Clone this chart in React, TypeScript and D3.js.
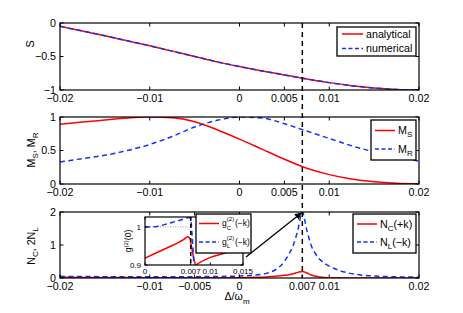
import React from "react";
import * as d3 from "d3";

// detuning grid for S and M panels
const detuning = [-0.02, -0.0175, -0.015, -0.0125, -0.01, -0.0075, -0.005, -0.0025, 0, 0.0025, 0.005, 0.0075, 0.01, 0.0125, 0.015, 0.0175, 0.02];
const sAnalytical = [-0.05, -0.12, -0.19, -0.265, -0.34, -0.42, -0.5, -0.58, -0.65, -0.715, -0.775, -0.835, -0.89, -0.935, -0.97, -0.992, -1.0];
const sNumerical = [-0.05, -0.12, -0.19, -0.265, -0.34, -0.42, -0.5, -0.58, -0.65, -0.715, -0.775, -0.835, -0.89, -0.935, -0.97, -0.992, -1.0];
const mS = [0.89, 0.925, 0.955, 0.985, 1.0, 0.99, 0.93, 0.81, 0.67, 0.52, 0.37, 0.235, 0.14, 0.075, 0.035, 0.012, 0.003];
const mR = [0.33, 0.38, 0.43, 0.5, 0.59, 0.71, 0.85, 0.95, 1.0, 0.985, 0.9, 0.79, 0.68, 0.57, 0.48, 0.41, 0.34];

// finer grid around the resonance
const peakDetuning = [-0.02, -0.015, -0.01, -0.005, 0, 0.002, 0.003, 0.004, 0.005, 0.0055, 0.006, 0.0065, 0.007, 0.0075, 0.008, 0.0085, 0.009, 0.01, 0.011, 0.012, 0.015, 0.02];
const nC = [0.02, 0.015, 0.01, 0.005, 0.01, 0.02, 0.03, 0.05, 0.08, 0.1, 0.13, 0.17, 0.2, 0.15, 0.09, 0.05, 0.03, 0.01, 0.005, 0.003, 0.001, 0];
const nL = [0.05, 0.04, 0.035, 0.04, 0.06, 0.1, 0.14, 0.25, 0.5, 0.72, 1.0, 1.45, 2.0, 1.45, 0.98, 0.72, 0.55, 0.36, 0.24, 0.16, 0.06, 0.025];

// inset g2(0)
const insetDetuning = [0, 0.001, 0.002, 0.003, 0.004, 0.005, 0.006, 0.0065, 0.0068, 0.007, 0.0072, 0.0075, 0.0078, 0.008, 0.009, 0.01, 0.012, 0.015];
const gC = [0.918, 0.926, 0.934, 0.942, 0.95, 0.958, 0.968, 0.974, 0.972, 0.96, 0.94, 0.915, 0.899, 0.902, 0.912, 0.92, 0.93, 0.945];
const gL = [1.0, 1.0, 1.002, 1.006, 1.011, 1.016, 1.021, 1.024, 1.025, 1.02, 0.98, 0.9, 0.82, 0.78, 0.7, 0.65, 0.6, 0.55];

const xTicksUpper = [-0.02, -0.01, 0, 0.005, 0.01, 0.02];
const xTicksLower = [-0.02, -0.01, -0.005, 0, 0.007, 0.01, 0.02];
const sTicks = [0, -0.5, -1];
const mTicks = [0, 0.5, 1];
const nTicks = [0, 1, 2];
const insetXTicks = [0, 0.007, 0.01, 0.015];
const insetYTicks = [0.9, 1];
const markerDetuning = 0.007;

const FONT = "'Liberation Sans', Arial, Helvetica, sans-serif";
const RED = "#ff0000";
const BLUE = "#1030ff";
const FS = 10.7;
const MINUS = "\u2212";

const x = d3.scaleLinear().domain([-0.02, 0.02]).range([60, 419]);
const yS = d3.scaleLinear().domain([-1, 0]).range([90, 23]);
const yM = d3.scaleLinear().domain([0, 1]).range([184, 117]);
const yN = d3.scaleLinear().domain([0, 2]).range([278, 212]);
const xi = d3.scaleLinear().domain([0, 0.015]).range([145, 243]);
const yi = d3.scaleLinear().domain([0.9, 1.026]).range([265, 217]);

const fmt = (v: number) => (v === 0 ? "0" : String(v).replace("-", MINUS));

function path(xs: number[], ys: number[], sx: any, sy: any) {
  return d3
    .line<number>()
    .x((_, i) => sx(xs[i]))
    .y((d) => sy(d))
    .curve(d3.curveMonotoneX)(ys) as string;
}

function Axes({ id, sx, sy, xTicks, yTicks, fontSize = FS, tick = 3.5, xLabelGap = 12, children }: any) {
  const [x0, x1] = sx.range();
  const [y1, y0] = sy.range();
  return (
    <g>
      <rect x={x0} y={y0} width={x1 - x0} height={y1 - y0} fill="#fff" />
      <clipPath id={id}>
        <rect x={x0} y={y0} width={x1 - x0} height={y1 - y0} />
      </clipPath>
      <g clipPath={`url(#${id})`}>{children}</g>
      {xTicks.map((t: number) => (
        <g key={"x" + t}>
          <line x1={sx(t)} x2={sx(t)} y1={y1} y2={y1 - tick} stroke="#000" />
          <line x1={sx(t)} x2={sx(t)} y1={y0} y2={y0 + tick} stroke="#000" />
          <text x={sx(t)} y={y1 + xLabelGap} textAnchor="middle" fontSize={fontSize}>
            {fmt(t)}
          </text>
        </g>
      ))}
      {yTicks.map((t: number) => (
        <g key={"y" + t}>
          <line x1={x0} x2={x0 + tick} y1={sy(t)} y2={sy(t)} stroke="#000" />
          <line x1={x1} x2={x1 - tick} y1={sy(t)} y2={sy(t)} stroke="#000" />
          <text x={x0 - 4} y={sy(t)} dy="0.35em" textAnchor="end" fontSize={fontSize}>
            {fmt(t)}
          </text>
        </g>
      ))}
      <rect x={x0} y={y0} width={x1 - x0} height={y1 - y0} fill="none" stroke="#000" strokeWidth={1.2} />
    </g>
  );
}

function Legend({ x0, y0, w, h, rows, line, fontSize = FS }: any) {
  return (
    <g>
      <rect x={x0} y={y0} width={w} height={h} fill="#fff" stroke="#000" strokeWidth={1.3} />
      {rows.map((r: any, i: number) => (
        <g key={i}>
          <line x1={line[0]} x2={line[1]} y1={r.y} y2={r.y} stroke={r.color} strokeWidth={1.5} strokeDasharray={r.dash} />
          <text x={line[1] + 3} y={r.y} dy="0.35em" fontSize={fontSize}>
            {r.label}
          </text>
        </g>
      ))}
    </g>
  );
}

export default function App() {
  const dash = "5,3.5";
  const gLabel = (tx: number, ty: number, sub: string) => (
    <g fontSize={8.5}>
      <text x={tx} y={ty} dy="0.3em">g</text>
      <text x={tx + 4.8} y={ty - 2.2} fontSize={6}>(2)</text>
      <text x={tx + 4.8} y={ty + 6} fontSize={6}>{sub}</text>
      <text x={tx + 13} y={ty} dy="0.3em">{`(${MINUS}k)`}</text>
    </g>
  );
  return (
    <div style={{ position: "fixed", left: 0, top: 0 }}>
      <svg width={463} height={313} fontFamily={FONT} style={{ display: "block", background: "#fff" }}>
        {/* top: S */}
        <Axes id="cS" sx={x} sy={yS} xTicks={xTicksUpper} yTicks={sTicks}>
          <path d={path(detuning, sAnalytical, x, yS)} fill="none" stroke={RED} strokeWidth={1.5} />
          <path d={path(detuning, sNumerical, x, yS)} fill="none" stroke={BLUE} strokeWidth={1.5} strokeDasharray={dash} />
        </Axes>
        <text transform="translate(34,44) rotate(-90)" textAnchor="middle" fontSize={FS}>S</text>
        <Legend
          x0={337} y0={27} w={79} h={29} line={[342, 363]}
          rows={[
            { y: 34, color: RED, label: "analytical" },
            { y: 48.5, color: BLUE, dash: "4,2.5", label: "numerical" },
          ]}
        />

        {/* middle: M */}
        <Axes id="cM" sx={x} sy={yM} xTicks={xTicksUpper} yTicks={mTicks}>
          <path d={path(detuning, mS, x, yM)} fill="none" stroke={RED} strokeWidth={1.5} />
          <path d={path(detuning, mR, x, yM)} fill="none" stroke={BLUE} strokeWidth={1.5} strokeDasharray={dash} />
        </Axes>
        <text transform="translate(35,150) rotate(-90)" textAnchor="middle" fontSize={FS}>
          M<tspan dy="3" fontSize="8">S</tspan><tspan dy="-3">, M</tspan><tspan dy="3" fontSize="8">R</tspan>
        </text>
        <Legend
          x0={371} y0={120} w={45} h={40} line={[375, 395]}
          rows={[
            { y: 130.5, color: RED, label: <>M<tspan dy="3" fontSize="8">S</tspan></> },
            { y: 149, color: BLUE, dash: "4,2.5", label: <>M<tspan dy="3" fontSize="8">R</tspan></> },
          ]}
        />

        {/* bottom: N */}
        <Axes id="cN" sx={x} sy={yN} xTicks={xTicksLower} yTicks={nTicks}>
          <path d={path(peakDetuning, nC, x, yN)} fill="none" stroke={RED} strokeWidth={1.5} />
          <path d={path(peakDetuning, nL, x, yN)} fill="none" stroke={BLUE} strokeWidth={1.5} strokeDasharray={dash} />
        </Axes>
        <text transform="translate(35,246) rotate(-90)" textAnchor="middle" fontSize={FS}>
          N<tspan dy="3" fontSize="8">C</tspan><tspan dy="-3">, 2N</tspan><tspan dy="3" fontSize="8">L</tspan>
        </text>
        <text x={237} y={300} textAnchor="middle" fontSize={FS}>
          Δ/ω<tspan dy="4" fontSize="8">m</tspan>
        </text>
        <Legend
          x0={353} y0={214} w={63} h={39} line={[357, 377]}
          rows={[
            { y: 224, color: RED, label: <>N<tspan dy="3" fontSize="8">C</tspan><tspan dy="-3">(+k)</tspan></> },
            { y: 242, color: BLUE, dash: "4,2.5", label: <>N<tspan dy="3" fontSize="8">L</tspan><tspan dy="-3">{`(${MINUS}k)`}</tspan></> },
          ]}
        />

        {/* inset */}
        <Axes id="cI" sx={xi} sy={yi} xTicks={insetXTicks} yTicks={insetYTicks} fontSize={8} tick={2.5} xLabelGap={8.5}>
          <line x1={xi(0)} x2={xi(markerDetuning)} y1={yi(1)} y2={yi(1)} stroke="#999" strokeDasharray="1,1.5" />
          <path d={path(insetDetuning, gC, xi, yi)} fill="none" stroke={RED} strokeWidth={1.5} />
          <path d={path(insetDetuning, gL, xi, yi)} fill="none" stroke={BLUE} strokeWidth={1.5} strokeDasharray={dash} />
          <line x1={xi(markerDetuning)} x2={xi(markerDetuning)} y1={yi.range()[1]} y2={yi.range()[0]} stroke="#000" strokeWidth={1.5} strokeDasharray="4,3" />
        </Axes>
        <text transform="translate(131,241) rotate(-90)" textAnchor="middle" fontSize={8.5}>
          g<tspan dy="-3" fontSize="6">(2)</tspan><tspan dy="3">(0)</tspan>
        </text>
        <g>
          <rect x={196} y={214} width={55} height={39} fill="#fff" stroke="#000" strokeWidth={1.3} />
          <line x1={199} x2={219} y1={223.5} y2={223.5} stroke={RED} strokeWidth={1.5} />
          {gLabel(222, 223.5, "C")}
          <line x1={199} x2={219} y1={242} y2={242} stroke={BLUE} strokeWidth={1.5} strokeDasharray="4,2.5" />
          {gLabel(222, 242, "L")}
        </g>

        {/* arrow */}
        <defs>
          <marker id="arr" viewBox="0 0 10 10" refX={9} refY={5} markerWidth={7} markerHeight={7} orient="auto" markerUnits="userSpaceOnUse">
            <path d="M0,0 L10,5 L0,10 z" fill="#000" />
          </marker>
        </defs>
        <line x1={246} y1={257} x2={x(markerDetuning) - 1} y2={yN(2) + 1} stroke="#000" strokeWidth={1.3} markerEnd="url(#arr)" />

        {/* marker line */}
        <line x1={x(markerDetuning)} x2={x(markerDetuning)} y1={yS(0)} y2={yN(0)} stroke="#000" strokeWidth={1.5} strokeDasharray="5,4" />
      </svg>
    </div>
  );
}
